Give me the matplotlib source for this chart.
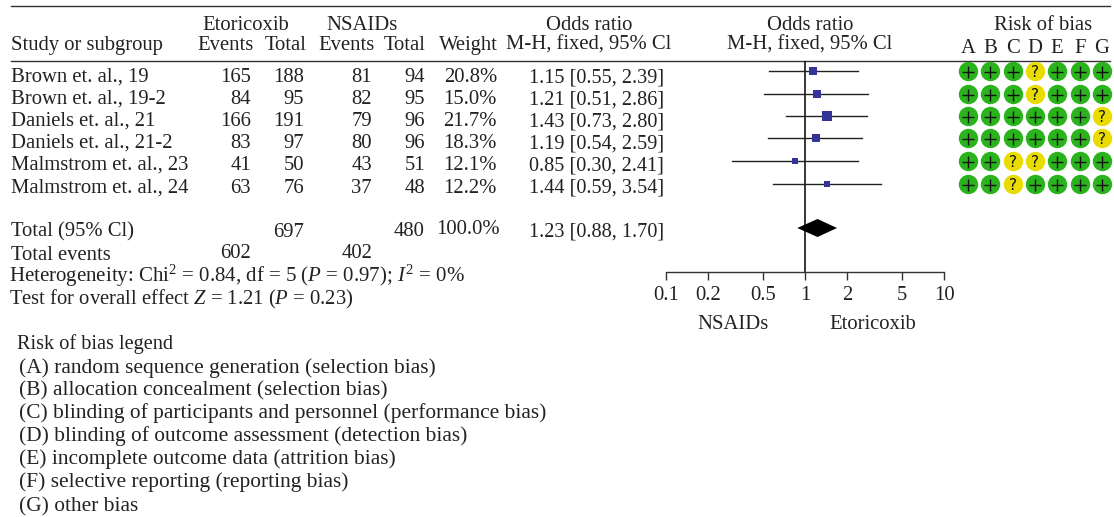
import matplotlib
matplotlib.use("Agg")
import matplotlib.pyplot as plt
from matplotlib.patches import Polygon

plt.rcParams["font.family"] = ["Liberation Serif", "DejaVu Serif"]
plt.rcParams["mathtext.fontset"] = "custom"
plt.rcParams["mathtext.rm"] = "Liberation Serif"
plt.rcParams["mathtext.it"] = "Liberation Serif:italic"

# Data
studies = ["Brown et. al., 19", "Brown et. al., 19-2", "Daniels et. al., 21",
           "Daniels et. al., 21-2", "Malmstrom et. al., 23", "Malmstrom et. al., 24"]
eto_events = [165, 84, 166, 83, 41, 63]
eto_total = [188, 95, 191, 97, 50, 76]
nsaid_events = [81, 82, 79, 80, 43, 37]
nsaid_total = [94, 95, 96, 96, 51, 48]
weights = [20.8, 15.0, 21.7, 18.3, 12.1, 12.2]
or_mid = [1.15, 1.21, 1.43, 1.19, 0.85, 1.44]
or_low = [0.55, 0.51, 0.73, 0.54, 0.30, 0.59]
or_high = [2.39, 2.86, 2.80, 2.59, 2.41, 3.54]
total_or = (1.23, 0.88, 1.70)
rob_letters = ["A", "B", "C", "D", "E", "F", "G"]
rob = ["+++?+++", "+++?+++", "++++++?", "++++++?", "++??+++", "++?++++"]
ticks = [0.1, 0.2, 0.5, 1, 2, 5, 10]
tick_labels = ["0.1", "0.2", "0.5", "1", "2", "5", "10"]
legend_lines = ["(A) random sequence generation (selection bias)",
                "(B) allocation concealment (selection bias)",
                "(C) blinding of participants and personnel (performance bias)",
                "(D) blinding of outcome assessment (detection bias)",
                "(E) incomplete outcome data (attrition bias)",
                "(F) selective reporting (reporting bias)",
                "(G) other bias"]

W, H = 1114, 517
FS = 14.9
TXT = "#222222"

fig = plt.figure(figsize=(W / 100, H / 100), dpi=100)
ax = fig.add_axes([0, 0, 1, 1])
ax.set_xlim(0, W)
ax.set_ylim(H, 0)
ax.axis("off")


def put(x, y, s, ha="left", **kw):
    ax.text(x, y, s, ha=ha, va="baseline", fontsize=kw.pop("fs", FS), color=TXT, **kw)


# Rules
ax.plot([11, 1110], [5.5, 5.5], color="#333333", lw=1)
ax.plot([11, 1110], [60.5, 60.5], color="#333333", lw=1)

# Headers
put(246, 30, "Etoricoxib", ha="center")
put(362, 30, "NSAIDs", ha="center")
put(589, 30, "Odds ratio", ha="center")
put(810, 30, "Odds ratio", ha="center")
put(1043, 30, "Risk of bias", ha="center")
put(11, 50, "Study or subgroup")
put(225, 50, "Events", ha="center")
put(286, 50, "Total", ha="center")
put(346, 50, "Events", ha="center")
put(405, 50, "Total", ha="center")
put(468, 50, "Weight", ha="center")
put(589, 50, "M-H, fixed, 95% Cl", ha="center")
put(810, 50, "M-H, fixed, 95% Cl", ha="center")

rob_x = [968, 990, 1013, 1035, 1057, 1080, 1102]
for x, letter in zip(rob_x, rob_letters):
    put(x, 53, letter, ha="center")

# Study rows
base_y = [82, 104, 126, 148, 170, 193]
mark_y = [71, 94, 116, 138, 161, 184]
for i, name in enumerate(studies):
    y = base_y[i]
    put(11, y, name)
    put(251, y, str(eto_events[i]), ha="right")
    put(304, y, str(eto_total[i]), ha="right")
    put(372, y, str(nsaid_events[i]), ha="right")
    put(425, y, str(nsaid_total[i]), ha="right")
    put(497, y, f"{weights[i]:.1f}%", ha="right")
    put(529, y, f"{or_mid[i]:.2f} [{or_low[i]:.2f}, {or_high[i]:.2f}]", fs=14.6)

# Totals
put(11, 236, "Total (95% Cl)")
put(304, 237, str(sum(eto_total)), ha="right")
put(425, 236, str(sum(nsaid_total)), ha="right")
put(500, 234, "100.0%", ha="right")
put(529, 236, f"{total_or[0]:.2f} [{total_or[1]:.2f}, {total_or[2]:.2f}]", fs=14.6)
put(11, 260, "Total events")
put(251, 258, str(sum(eto_events)), ha="right")
put(372, 258, str(sum(nsaid_events)), ha="right")
put(9, 282, r"Heterogeneity: Chi$^{2}$ = 0.84, df = 5 ($\mathit{P}$ = 0.97); $\mathit{I}^{2}$ = 0%", fs=15)
put(9, 304, r"Test for overall effect $\mathit{Z}$ = 1.21 ($\mathit{P}$ = 0.23)")

# Legend
put(17, 349, "Risk of bias legend", fs=14.6)
for y, line in zip([373, 395, 418, 441, 464, 487, 511], legend_lines):
    put(19, y, line, fs=15.4)

# Risk of bias dots
for y, row in zip(mark_y, rob):
    for x, val in zip(rob_x, row):
        col = "#2ab31c" if val == "+" else "#e8dc00"
        ax.scatter([x], [y], s=195, color=col, linewidths=0, zorder=2)
        if val == "+":
            ax.plot([x], [y + 1], marker="+", ms=8, mew=1, color="#111111", zorder=3)
        else:
            ax.text(x, y + 6, "?", ha="center", va="baseline", fontsize=11,
                    family="DejaVu Sans", color="#111111", zorder=3)

# Forest plot, log x axis
fx0, fx1, fy0, fy1 = 666, 944, 61, 272
fa = fig.add_axes([fx0 / W, 1 - fy1 / H, (fx1 - fx0) / W, (fy1 - fy0) / H])
fa.set_xscale("log")
fa.set_xlim(0.1, 10)
fa.set_ylim(fy1, fy0)
fa.patch.set_alpha(0)
for side in ["top", "left", "right"]:
    fa.spines[side].set_visible(False)
fa.spines["bottom"].set_color("#333333")
fa.spines["bottom"].set_linewidth(1)
fa.set_yticks([])
fa.set_xticks(ticks)
fa.set_xticklabels(tick_labels, fontsize=FS, color=TXT)
fa.minorticks_off()
fa.tick_params(axis="x", direction="out", length=6, width=1, color="#333333", pad=4)
fa.axvline(1, color="black", lw=1.1)
for i in range(len(studies)):
    fa.plot([or_low[i], or_high[i]], [mark_y[i], mark_y[i]], color="#222222", lw=1)
    fa.plot([or_mid[i]], [mark_y[i]], marker="s", color="#333399", mew=0,
            ms=2.6 + weights[i] * 0.18)
fa.add_patch(Polygon([(total_or[1], 228), (total_or[0], 219), (total_or[2], 228), (total_or[0], 237)],
                     closed=True, color="black", lw=0, zorder=3))

put(733, 329, "NSAIDs", ha="center")
put(873, 329, "Etoricoxib", ha="center")

fig.savefig("out.png", dpi=100)
